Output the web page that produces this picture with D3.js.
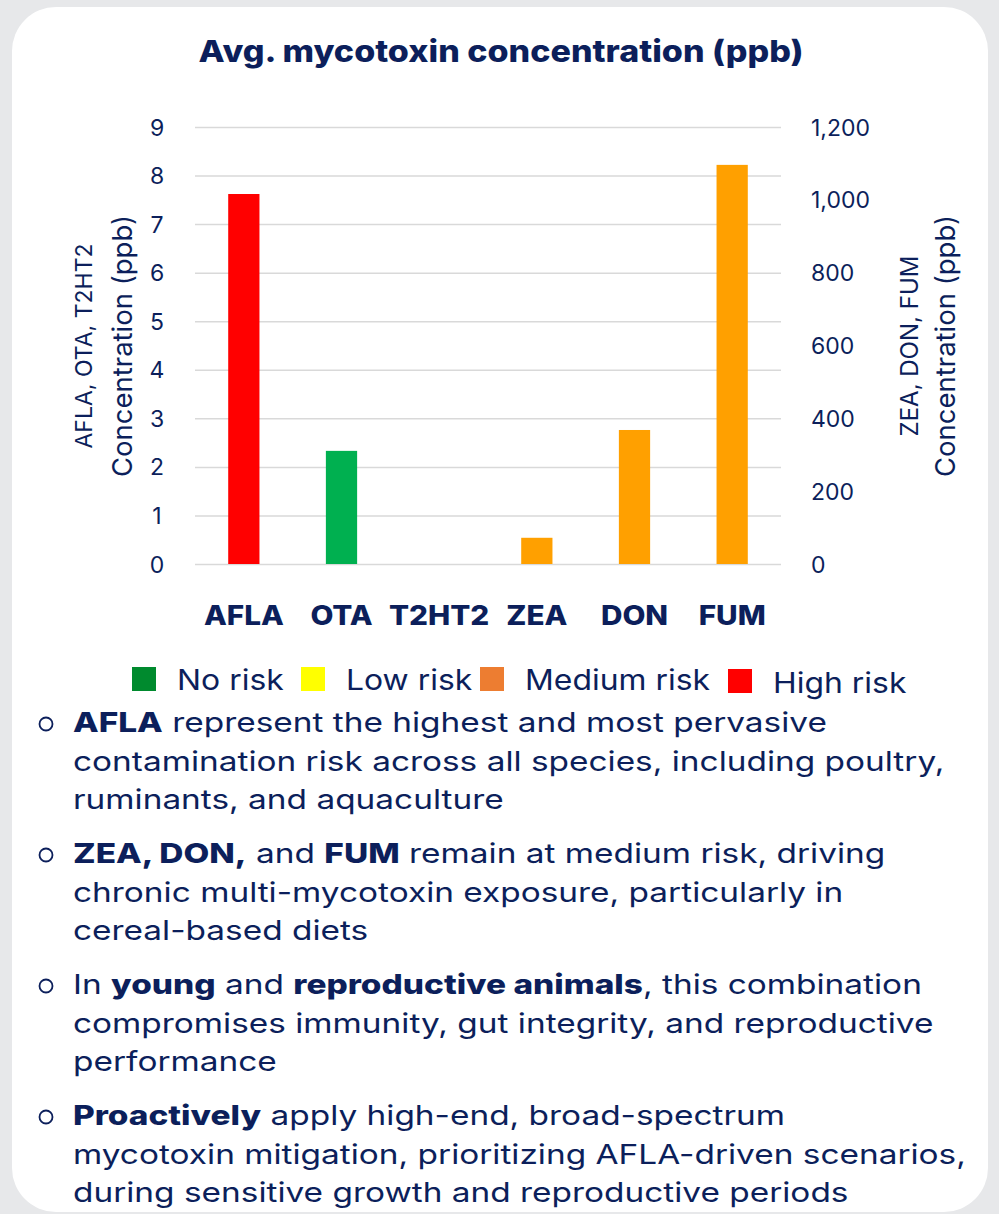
<!DOCTYPE html>
<html>
<head>
<meta charset="utf-8">
<script src="https://cdn.jsdelivr.net/npm/d3@7"></script>
<style>
  html, body { margin: 0; padding: 0; background: #e7e8ea; }
  svg { display: block; }
  text { font-family: Inter, "Open Sans", sans-serif; fill: #0c1f5b; }
</style>
</head>
<body>
<svg id="chart"></svg>
<script>
// data
const categories = ['AFLA', 'OTA', 'T2HT2', 'ZEA', 'DON', 'FUM'];
const concentration = [7.62, 2.33, 0, 72, 368, 1096];
const axisSide = ['left', 'left', 'left', 'right', 'right', 'right'];
const barColors = ['#ff0000', '#00b050', '#ffc000', '#ffa000', '#ffa000', '#ffa000'];
const leftTicks = [0, 1, 2, 3, 4, 5, 6, 7, 8, 9];
const rightTicks = [0, 200, 400, 600, 800, 1000, 1200];
const legendLabels = ['No risk', 'Low risk', 'Medium risk', 'High risk'];
const legendColors = ['#008a2e', '#ffff00', '#ed7d31', '#ff0000'];
const bullets = [
  [[['AFLA', true], [' represent the highest and most pervasive', false]],
   [['contamination risk across all species, including poultry,', false]],
   [['ruminants, and aquaculture', false]]],
  [[['ZEA, DON,', true], [' and ', false], ['FUM', true], [' remain at medium risk, driving', false]],
   [['chronic multi-mycotoxin exposure, particularly in', false]],
   [['cereal-based diets', false]]],
  [[['In ', false], ['young', true], [' and ', false], ['reproductive animals', true], [', this combination', false]],
   [['compromises immunity, gut integrity, and reproductive', false]],
   [['performance', false]]],
  [[['Proactively', true], [' apply high-end, broad-spectrum', false]],
   [['mycotoxin mitigation, prioritizing AFLA-driven scenarios,', false]],
   [['during sensitive growth and reproductive periods', false]]]
];

const W = 999, H = 1214;
const svg = d3.select('#chart').attr('width', W).attr('height', H);

// card
svg.append('rect')
  .attr('x', 12).attr('y', 7)
  .attr('width', 976).attr('height', 1205)
  .attr('rx', 44)
  .attr('fill', '#ffffff');

// title (Inter is narrower than the original font, so stretch a bit)
svg.append('text')
  .attr('transform', 'translate(501,62) scale(1.135,1)')
  .attr('text-anchor', 'middle')
  .style('font-size', '30px').style('font-weight', 800)
  .text('Avg. mycotoxin concentration (ppb)');

const plot = {left: 195, right: 781, top: 127, bottom: 564};

const x = d3.scaleBand()
  .domain(categories)
  .range([plot.left, plot.right])
  .paddingInner(0.68)
  .paddingOuter(0.34);

const yLeft = d3.scaleLinear().domain([0, 9]).range([plot.bottom, plot.top]);
const yRight = d3.scaleLinear().domain([0, 1200]).range([plot.bottom, plot.top]);

// gridlines
const grid = svg.append('g')
  .attr('transform', 'translate(' + plot.left + ',0)')
  .call(d3.axisLeft(yLeft).tickValues(leftTicks).tickSize(-(plot.right - plot.left)).tickFormat(''));
grid.select('.domain').remove();
grid.selectAll('line').attr('stroke', '#d9d9d9').attr('stroke-width', 1.5);

// bars
const data = categories.map((c, i) => ({cat: c, value: concentration[i], side: axisSide[i], color: barColors[i]}));
svg.append('g').selectAll('rect')
  .data(data)
  .join('rect')
  .attr('x', d => x(d.cat))
  .attr('width', x.bandwidth())
  .attr('y', d => (d.side === 'left' ? yLeft : yRight)(d.value))
  .attr('height', d => plot.bottom - (d.side === 'left' ? yLeft : yRight)(d.value))
  .attr('fill', d => d.color);

// left axis
const axL = svg.append('g')
  .attr('transform', 'translate(157,0)')
  .call(d3.axisLeft(yLeft).tickValues(leftTicks).tickSize(0).tickPadding(0));
axL.select('.domain').remove();
axL.selectAll('text')
  .style('font-size', '23px').attr('dy', '0.35em')
  .attr('text-anchor', 'middle').attr('x', 0);

// right axis
const axR = svg.append('g')
  .attr('transform', 'translate(' + (plot.right + 30) + ',0)')
  .call(d3.axisRight(yRight).tickValues(rightTicks).tickSize(0).tickPadding(0).tickFormat(d3.format(',')));
axR.select('.domain').remove();
axR.selectAll('text').style('font-size', '23px').attr('dy', '0.35em');

// axis titles
function axisTitle(bx, size, label) {
  svg.append('text')
    .attr('transform', 'translate(' + bx + ',346) rotate(-90)')
    .attr('text-anchor', 'middle')
    .style('font-size', size + 'px')
    .text(label);
}
axisTitle(92, 23, 'AFLA, OTA, T2HT2');
axisTitle(132, 27.5, 'Concentration (ppb)');
axisTitle(918, 24, 'ZEA, DON, FUM');
axisTitle(955, 27.5, 'Concentration (ppb)');

// category labels
svg.append('g').selectAll('text')
  .data(categories)
  .join('text')
  .attr('transform', d => 'translate(' + (x(d) + x.bandwidth() / 2) + ',625) scale(1.1,1)')
  .attr('text-anchor', 'middle')
  .style('font-size', '27px').style('font-weight', 800)
  .text(d => d);

// legend
const legendX = [132, 301, 480, 728];
const lg = svg.append('g');
legendLabels.forEach((l, i) => {
  lg.append('rect')
    .attr('x', legendX[i]).attr('y', 667 + (i === 3 ? 2 : 0))
    .attr('width', 24).attr('height', 24)
    .attr('fill', legendColors[i]);
  lg.append('text')
    .attr('transform', 'translate(' + (legendX[i] + 45) + ',' + (690 + (i === 3 ? 3 : 0)) + ') scale(1.12,1)')
    .style('font-size', '28.5px').style('font-weight', 400)
    .text(l);
});

// bullets
const bulletTop = [732, 863, 994, 1125];
const lineH = 38.6;
bullets.forEach((b, bi) => {
  svg.append('circle')
    .attr('cx', 46).attr('cy', bulletTop[bi] - 8)
    .attr('r', 6.5)
    .attr('fill', 'none').attr('stroke', '#0c1f5b').attr('stroke-width', 1.8);
  b.forEach((line, li) => {
    const t = svg.append('text')
      .attr('transform', 'translate(73,' + (bulletTop[bi] + li * lineH) + ') scale(1.215,1)')
      .style('font-size', '27.5px');
    line.forEach(seg => {
      t.append('tspan')
        .style('font-weight', seg[1] ? 800 : 400)
        .text(seg[0]);
    });
  });
});
</script>
</body>
</html>
